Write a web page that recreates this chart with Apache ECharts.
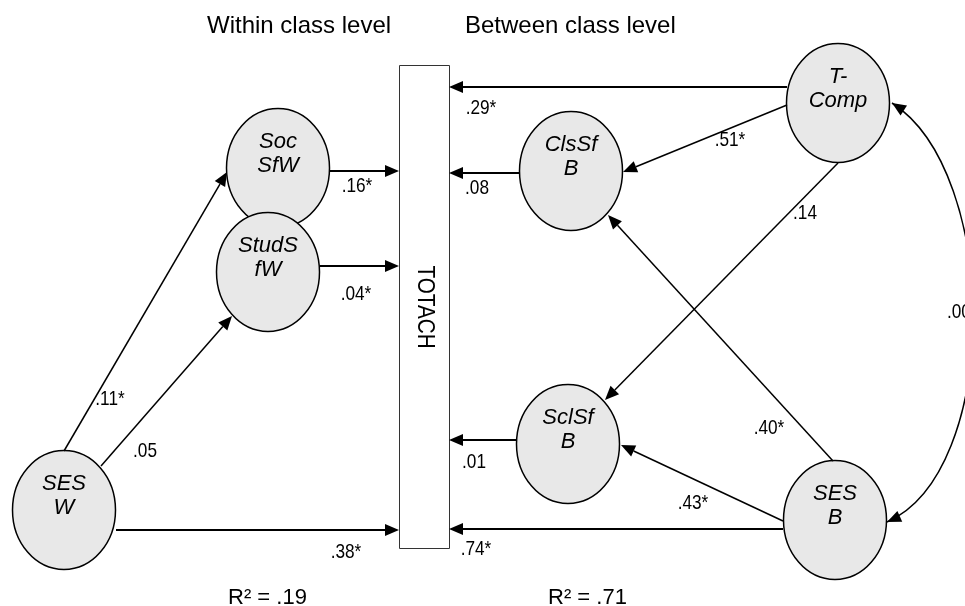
<!DOCTYPE html>
<html>
<head>
<meta charset="utf-8">
<script src="https://cdn.jsdelivr.net/npm/echarts@6/dist/echarts.min.js"></script>
<style>html,body{margin:0;padding:0;background:#fff}#c{width:965px;height:606px}</style>
</head>
<body>
<div id="c"></div>
<script>
// ---- diagram data (positions in diagram units, mapped through hidden axes) ----
const nodeLabels = ['Soc\nSfW', 'StudS\nfW', 'SES\nW', 'ClsSf\nB', 'T-\nComp', 'SclSf\nB', 'SES\nB'];
const nodeX = [278, 268, 64, 571, 838, 568, 835];
const nodeY = [168, 272, 510, 171, 103, 444, 520];

const pathCoef  = ['.29*', '.08', '.51*', '.14', '.40*', '.43*', '.74*', '.01', '.16*', '.04*', '.11*', '.05', '.38*'];
const pathFromX = [787, 520, 787, 838, 833, 783, 783, 517, 329, 320, 64, 101, 116];
const pathFromY = [87, 173, 105, 163, 461, 521, 529, 440, 171, 266, 451, 466, 530];
const pathToX   = [449, 449, 623, 605, 608, 621, 449, 449, 399, 399, 227, 232, 399];
const pathToY   = [87, 173, 172, 400, 215, 445, 529, 440, 171, 266, 172, 316, 530];
const coefX     = [481, 477, 730, 805, 769, 693, 476, 474, 357, 356, 110, 145, 346];
const coefY     = [108, 188, 140, 213, 428, 503, 549, 462, 186, 294, 399, 451, 552];

const covCoef = ['.00'];
const covCurveX = [892, 1001, 1001, 887];
const covCurveY = [103, 173, 472, 522];
const covLabelX = [947];
const covLabelY = [312];

const outcomeName = ['TOTACH'];
const outcomeBoxX = [399, 449];
const outcomeBoxY = [65, 548];
const outcomeLabelX = [424];
const outcomeLabelY = [307];

const levelTitles = ['Within class level', 'Between class level'];
const levelTitleX = [207, 465];
const levelTitleY = [26, 26];

const r2Labels = ['R\u00B2 = .19', 'R\u00B2 = .71'];
const r2X = [228, 548];
const r2Y = [598, 598];

// ---- rendering ----
const FONT = '"Liberation Sans", Arial, Helvetica, sans-serif';
const RX = 51.5, RY = 59.5;
const AL = 14, AW = 6;

function head(tip, from) {
  const dx = tip[0] - from[0], dy = tip[1] - from[1];
  const len = Math.sqrt(dx * dx + dy * dy);
  const ux = dx / len, uy = dy / len;
  const bx = tip[0] - AL * ux, by = tip[1] - AL * uy;
  const nx = -uy, ny = ux;
  return {
    base: [bx, by],
    points: [[tip[0], tip[1]], [bx + AW * nx, by + AW * ny], [bx - AW * nx, by - AW * ny]]
  };
}

const chart = echarts.init(document.getElementById('c'), null, { renderer: 'canvas' });

const option = {
  animation: false,
  backgroundColor: '#fff',
  grid: { left: 0, right: 0, top: 0, bottom: 0 },
  xAxis: { type: 'value', min: 0, max: 965, show: false },
  yAxis: { type: 'value', min: 0, max: 606, inverse: true, show: false },
  series: [
    {
      // outcome box
      type: 'custom', z: 1,
      data: outcomeName.map((n, i) => [outcomeBoxX[0], outcomeBoxY[0], outcomeBoxX[1], outcomeBoxY[1]]),
      encode: { x: [0, 2], y: [1, 3] },
      renderItem: function (params, api) {
        const a = api.coord([outcomeBoxX[0], outcomeBoxY[0]]);
        const b = api.coord([outcomeBoxX[1], outcomeBoxY[1]]);
        const c = api.coord([outcomeLabelX[0], outcomeLabelY[0]]);
        return {
          type: 'group',
          children: [
            { type: 'rect', shape: { x: a[0] + 0.5, y: a[1] + 0.5, width: b[0] - a[0], height: b[1] - a[1] },
              style: { fill: '#fff', stroke: '#333', lineWidth: 1 } },
            { type: 'text', x: c[0], y: c[1], rotation: -Math.PI / 2, scaleX: 0.9,
              style: { text: outcomeName[0], font: '23px ' + FONT, fill: '#000', align: 'center', verticalAlign: 'middle' } }
          ]
        };
      }
    },
    {
      // latent / observed nodes
      type: 'custom', z: 2,
      data: nodeLabels.map((n, i) => [nodeX[i], nodeY[i]]),
      encode: { x: 0, y: 1 },
      renderItem: function (params, api) {
        const i = params.dataIndex;
        const c = api.coord([nodeX[i], nodeY[i]]);
        return {
          type: 'group',
          children: [
            { type: 'ellipse', shape: { cx: c[0], cy: c[1], rx: RX, ry: RY },
              style: { fill: '#e8e8e8', stroke: '#000', lineWidth: 1.5 } },
            { type: 'text', x: c[0], y: c[1] - 14,
              style: { text: nodeLabels[i], font: 'italic 22px ' + FONT, lineHeight: 24, fill: '#000', align: 'center', verticalAlign: 'middle' } }
          ]
        };
      }
    },
    {
      // structural paths
      type: 'custom', z: 3,
      data: pathCoef.map((c, i) => [pathFromX[i], pathFromY[i], pathToX[i], pathToY[i]]),
      encode: { x: [0, 2], y: [1, 3] },
      renderItem: function (params, api) {
        const i = params.dataIndex;
        const p0 = api.coord([pathFromX[i], pathFromY[i]]);
        const p1 = api.coord([pathToX[i], pathToY[i]]);
        const c = api.coord([coefX[i], coefY[i]]);
        const h = head(p1, p0);
        const lw = Math.abs(p1[1] - p0[1]) < 0.5 ? 2 : 1.5;
        return {
          type: 'group',
          children: [
            { type: 'line', shape: { x1: p0[0], y1: p0[1], x2: h.base[0], y2: h.base[1] },
              style: { stroke: '#000', lineWidth: lw } },
            { type: 'polygon', shape: { points: h.points }, style: { fill: '#000' } },
            { type: 'text', x: c[0], y: c[1], scaleX: 0.82,
              style: { text: pathCoef[i], font: '21px ' + FONT, fill: '#000', align: 'center', verticalAlign: 'middle' } }
          ]
        };
      }
    },
    {
      // covariance (double-headed curve)
      type: 'custom', z: 3,
      data: covCoef.map((c, i) => [covCurveX[0], covCurveY[0], covCurveX[3], covCurveY[3]]),
      encode: { x: [0, 2], y: [1, 3] },
      renderItem: function (params, api) {
        const p = covCurveX.map((x, k) => api.coord([x, covCurveY[k]]));
        const l = api.coord([covLabelX[0], covLabelY[0]]);
        const h0 = head(p[0], p[1]);
        const h3 = head(p[3], p[2]);
        return {
          type: 'group',
          children: [
            { type: 'bezierCurve',
              shape: { x1: p[0][0], y1: p[0][1], cpx1: p[1][0], cpy1: p[1][1], cpx2: p[2][0], cpy2: p[2][1], x2: p[3][0], y2: p[3][1] },
              style: { stroke: '#000', lineWidth: 1.5, fill: null } },
            { type: 'polygon', shape: { points: h0.points }, style: { fill: '#000' } },
            { type: 'polygon', shape: { points: h3.points }, style: { fill: '#000' } },
            { type: 'text', x: l[0], y: l[1], scaleX: 0.82,
              style: { text: covCoef[0], font: '21px ' + FONT, fill: '#000', align: 'left', verticalAlign: 'middle' } }
          ]
        };
      }
    },
    {
      // titles and R-squared texts
      type: 'custom', z: 4,
      data: levelTitles.concat(r2Labels).map((t, i) => i < 2 ? [levelTitleX[i], levelTitleY[i]] : [r2X[i - 2], r2Y[i - 2]]),
      encode: { x: 0, y: 1 },
      renderItem: function (params, api) {
        const i = params.dataIndex;
        const isTitle = i < 2;
        const pt = isTitle ? api.coord([levelTitleX[i], levelTitleY[i]]) : api.coord([r2X[i - 2], r2Y[i - 2]]);
        return {
          type: 'text', x: pt[0], y: pt[1],
          style: { text: isTitle ? levelTitles[i] : r2Labels[i - 2], font: (isTitle ? '24px ' : '22px ') + FONT,
                   fill: '#000', align: 'left', verticalAlign: 'middle' }
        };
      }
    }
  ]
};

chart.setOption(option);
</script>
</body>
</html>
